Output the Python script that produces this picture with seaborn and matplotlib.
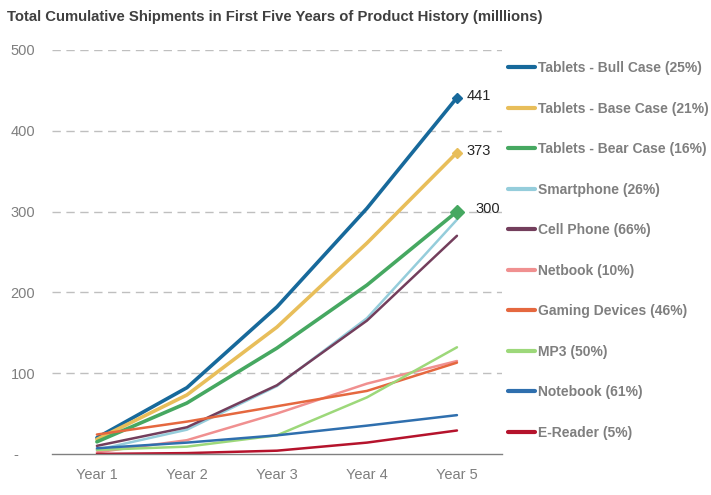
import numpy as np
import pandas as pd
import matplotlib
matplotlib.use("Agg")
import matplotlib.pyplot as plt
import seaborn as sns

sns.set_theme(style="white")
plt.rcParams['font.family'] = ['Liberation Sans', 'DejaVu Sans']

years = ['Year 1', 'Year 2', 'Year 3', 'Year 4', 'Year 5']
series_names = [
    'Tablets - Bull Case (25%)',
    'Tablets - Base Case (21%)',
    'Tablets - Bear Case (16%)',
    'Smartphone (26%)',
    'Cell Phone (66%)',
    'Netbook (10%)',
    'Gaming Devices (46%)',
    'MP3 (50%)',
    'Notebook (61%)',
    'E-Reader (5%)',
]
bull = [20, 82, 182, 304, 441]
base = [18, 73, 157, 261, 373]
bear = [15, 63, 131, 209, 300]
smartphone = [5, 30, 84, 168, 290]
cell_phone = [10, 33, 85, 165, 270]
netbook = [2, 17, 50, 87, 115]
gaming = [24, 40, 59, 78, 113]
mp3 = [5, 9, 23, 70, 132]
notebook = [7, 14, 23, 35, 48]
ereader = [0, 1, 4, 14, 29]
values = [bull, base, bear, smartphone, cell_phone, netbook, gaming, mp3, notebook, ereader]
colors = ['#17699B', '#E8BE5A', '#46A861', '#95CDDB', '#733E5C',
          '#F09090', '#E5683F', '#9DD87A', '#2F6FAE', '#B5132C']
widths = [2.6, 2.6, 2.6, 1.8, 1.8, 1.8, 1.8, 1.8, 1.8, 1.8]

df = pd.DataFrame({
    'year': years * len(series_names),
    'x': list(range(len(years))) * len(series_names),
    'value': [v for vals in values for v in vals],
    'series': [s for s in series_names for _ in years],
})

fig = plt.figure(figsize=(7.11, 4.95), dpi=100)
ax = fig.add_axes([0.073, 0.083, 0.633, 0.816])

for name, col, lw in zip(series_names, colors, widths):
    sub = df[df['series'] == name]
    sns.lineplot(data=sub, x='x', y='value', color=col, linewidth=lw,
                 label=name, ax=ax)

# end markers + labels for the tablet cases
for vals, col, ms in zip(values[:3], colors[:3], [5, 5, 7]):
    ax.plot(4, vals[-1], marker='D', color=col, markersize=ms, zorder=5)
ax.annotate(str(bull[-1]), (4, bull[-1]), xytext=(7, 1), textcoords='offset points',
            va='center', fontsize=10.5, color='#262626')
ax.annotate(str(base[-1]), (4, base[-1]), xytext=(7, 1), textcoords='offset points',
            va='center', fontsize=10.5, color='#262626')
ax.annotate(str(bear[-1]), (4, bear[-1]), xytext=(13, 2), textcoords='offset points',
            va='center', fontsize=10.5, color='#262626')

ax.set_xlim(-0.5, 4.5)
ax.set_ylim(0, 500)
ax.set_xticks(range(len(years)))
ax.set_xticklabels(years)
ax.set_yticks([0, 100, 200, 300, 400, 500])
ax.set_yticklabels(['-    ', '100', '200', '300', '400', '500'])
ax.tick_params(axis='both', colors='#7F7F7F', labelsize=10.5, length=0)
ax.tick_params(axis='x', pad=10)
ax.tick_params(axis='y', pad=12)
ax.set_xlabel('')
ax.set_ylabel('')
for y in [100, 200, 300, 400, 500]:
    ax.axhline(y, color='#BFBFBF', linestyle=(0, (6, 4)), linewidth=1, zorder=0)
for s in ['top', 'right', 'left']:
    ax.spines[s].set_visible(False)
ax.spines['bottom'].set_color('#808080')
ax.spines['bottom'].set_linewidth(1)

leg = ax.legend(loc='upper left', bbox_to_anchor=(0.707, 0.888),
                bbox_transform=fig.transFigure, frameon=False, borderaxespad=0,
                handlelength=1.95, handletextpad=0.2, labelspacing=1.91,
                prop={'size': 10, 'weight': 'bold'})
for t in leg.get_texts():
    t.set_color('#7F7F7F')
for h in leg.get_lines():
    h.set_linewidth(3)

fig.text(0.01, 0.965, 'Total Cumulative Shipments in First Five Years of Product History (milllions)',
         fontsize=10.7, fontweight='bold', color='#404040', va='center')

fig.savefig('out.png', dpi=100)
